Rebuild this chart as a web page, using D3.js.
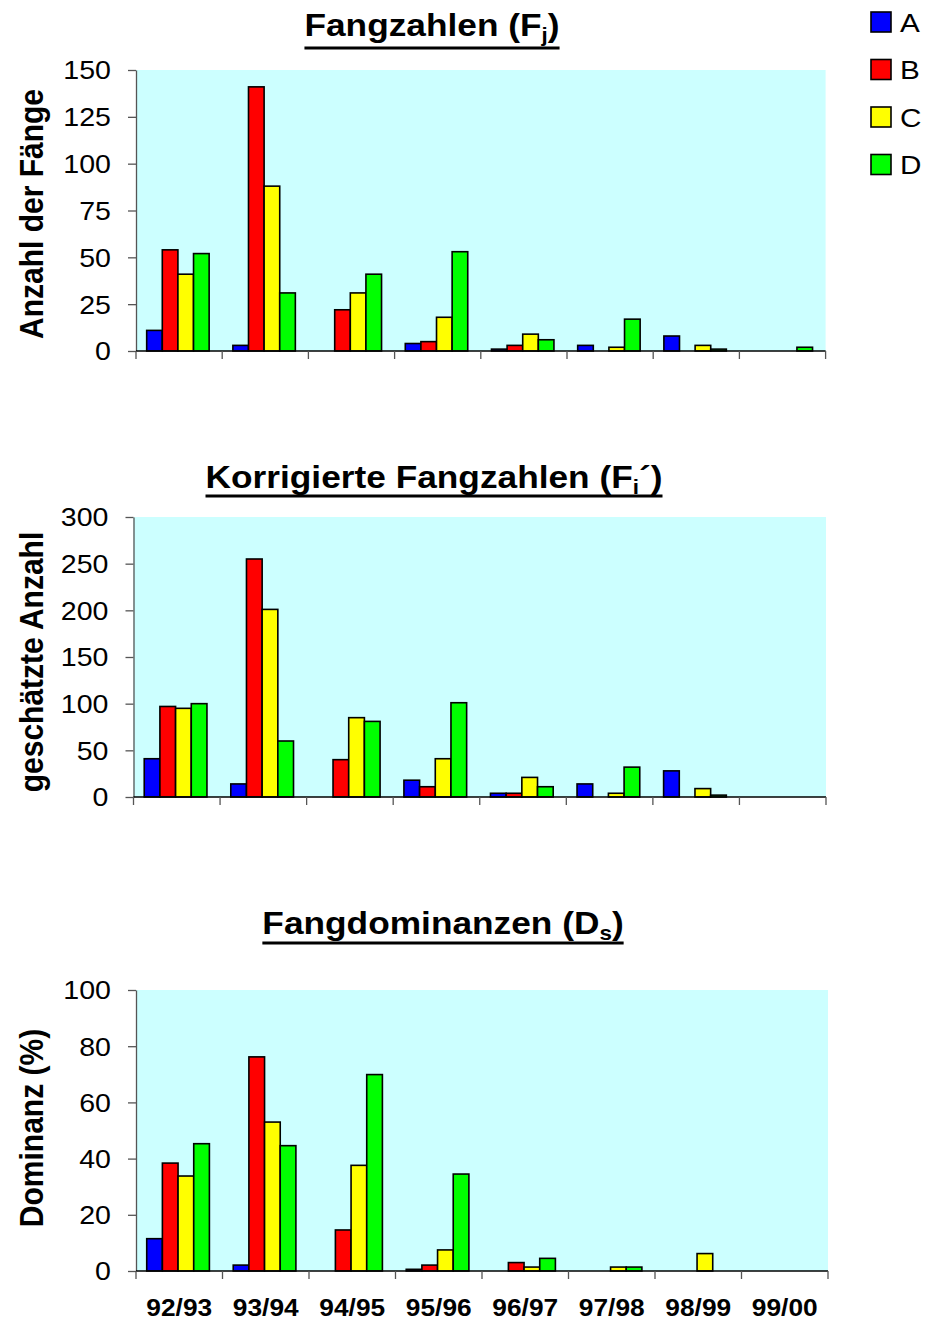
<!DOCTYPE html>
<html><head><meta charset="utf-8">
<script src="https://cdn.jsdelivr.net/npm/d3@7"></script>
<style>
body{margin:0;background:#fff;}
svg{display:block;font-family:"Liberation Sans",Arial,sans-serif;}
</style></head>
<body>
<svg id="c" width="925" height="1321"></svg>
<script>
const categories = ["92/93","93/94","94/95","95/96","96/97","97/98","98/99","99/00"];
const seriesNames = ["A","B","C","D"];
const seriesColors = ["#0000FF","#FF0000","#FFFF00","#00FF00"];

// Fangzahlen (Fi)
const fangA = [11,3,0,4,1,3,8,0];
const fangB = [54,141,22,5,3,0,0,0];
const fangC = [41,88,31,18,9,2,3,0];
const fangD = [52,31,41,53,6,17,1,2];
const fangTicks = [0,25,50,75,100,125,150];

// Korrigierte Fangzahlen (Fi')
const korrA = [41,14,0,18,4,14,28,0];
const korrB = [97,255,40,11,4,0,0,0];
const korrC = [95,201,85,41,21,4,9,0];
const korrD = [100,60,81,101,11,32,2,0];
const korrTicks = [0,50,100,150,200,250,300];

// Fangdominanzen (Ds)
const domA = [11.5,2.1,0,0.6,0,0,0,0];
const domB = [38.4,76.2,14.6,2.1,3.0,0,0,0];
const domC = [33.8,53,37.6,7.5,1.4,1.4,6.2,0];
const domD = [45.3,44.6,69.9,34.5,4.5,1.4,0,0];
const domTicks = [0,20,40,60,80,100];

const SX = 1.12; // horizontal text stretch
const svg = d3.select("#c");

const panels = [
  {title:["Fangzahlen (F","j",")"], tx:432, ty:36, ul:48, ytitle:"Anzahl der Fänge", yt:214,
   x0:136, x1:825.6, y0:70, y1:351, max:150, ticks:fangTicks, data:[fangA,fangB,fangC,fangD], xlabels:false},
  {title:["Korrigierte Fangzahlen (F","i","´)"], tx:434, ty:488, ul:496, ytitle:"geschätzte Anzahl", yt:662,
   x0:133.5, x1:826, y0:517, y1:797, max:300, ticks:korrTicks, data:[korrA,korrB,korrC,korrD], xlabels:false},
  {title:["Fangdominanzen (D","s",")"], tx:443, ty:934, ul:943, ytitle:"Dominanz (%)", yt:1128,
   x0:136, x1:828, y0:990, y1:1271, max:100, ticks:domTicks, data:[domA,domB,domC,domD], xlabels:true}
];

panels.forEach(p => {
  const g = svg.append("g");
  const x = d3.scaleBand().domain(categories).range([p.x0,p.x1]).paddingInner(0).paddingOuter(0);
  const xs = d3.scaleBand().domain(seriesNames).range([0,x.bandwidth()]).paddingInner(0).paddingOuter(0.76).align(0.45);
  const y = d3.scaleLinear().domain([0,p.max]).range([p.y1,p.y0]);

  g.append("rect").attr("x",p.x0).attr("y",p.y0).attr("width",p.x1-p.x0).attr("height",p.y1-p.y0).attr("fill","#CCFFFF");

  seriesNames.forEach((s,si) => {
    const vals = p.data[si];
    g.selectAll(null).data(categories.map((c,i)=>({c,v:vals[i]})).filter(d=>d.v>0)).enter()
      .append("rect")
      .attr("x",d=>x(d.c)+xs(s))
      .attr("y",d=>y(d.v))
      .attr("width",xs.bandwidth())
      .attr("height",d=>p.y1-y(d.v))
      .attr("fill",seriesColors[si])
      .attr("stroke","#000").attr("stroke-width",1.6);
  });

  // y axis
  const ya = g.append("g").attr("transform",`translate(${p.x0},0)`)
    .call(d3.axisLeft(y).tickValues(p.ticks).tickSize(8).tickSizeOuter(0));
  ya.select(".domain").attr("stroke","#555").attr("stroke-width",1.3);
  ya.selectAll(".tick line").attr("stroke","#555").attr("stroke-width",1.3);
  ya.selectAll(".tick text").attr("x",0).attr("dy","0.35em")
    .attr("transform",`translate(-25,0) scale(${SX},1)`)
    .attr("font-size",25.5).attr("fill","#000").attr("font-family","Liberation Sans, Arial, sans-serif");

  // x axis
  const xa = g.append("g").attr("transform",`translate(0,${p.y1})`);
  xa.append("line").attr("x1",p.x0).attr("x2",p.x1).attr("stroke","#000").attr("stroke-width",1.5);
  const bounds = categories.map(c=>x(c)).concat([p.x1]);
  xa.selectAll(null).data(bounds).enter().append("line")
    .attr("x1",d=>d).attr("x2",d=>d).attr("y1",0).attr("y2",8)
    .attr("stroke","#555").attr("stroke-width",1.3);
  if (p.xlabels) {
    xa.selectAll(null).data(categories).enter().append("text")
      .attr("transform",d=>`translate(${x(d)+x.bandwidth()/2},45) scale(${SX},1)`)
      .attr("text-anchor","middle").attr("font-size",23.5).attr("font-weight","bold").text(d=>d);
  }

  // y title
  g.append("text")
    .attr("transform",`translate(43,${p.yt}) scale(${SX},1) rotate(-90)`)
    .attr("text-anchor","middle").attr("font-size",30).attr("font-weight","bold").text(p.ytitle);

  // title
  const t = g.append("text")
    .attr("transform",`translate(${p.tx},${p.ty}) scale(${SX},1)`)
    .attr("text-anchor","middle").attr("font-size",31.5).attr("font-weight","bold");
  t.append("tspan").text(p.title[0]);
  t.append("tspan").attr("font-size",20).attr("dy",6).text(p.title[1]);
  t.append("tspan").attr("dy",-6).text(p.title[2]);
  const bb = t.node().getBBox();
  const w = bb.width*SX;
  g.append("rect").attr("x",p.tx-w/2).attr("y",p.ul-1.5).attr("width",w).attr("height",3).attr("fill","#000");
});

// legend
const lg = svg.append("g");
seriesNames.forEach((s,i)=>{
  const yy = 12 + i*47.5;
  lg.append("rect").attr("x",871).attr("y",yy).attr("width",20).attr("height",20)
    .attr("fill",seriesColors[i]).attr("stroke","#000").attr("stroke-width",1.6);
  lg.append("text").attr("transform",`translate(900,${yy+19.5}) scale(${SX},1)`)
    .attr("font-size",26.5).text(s);
});
</script>
</body></html>
